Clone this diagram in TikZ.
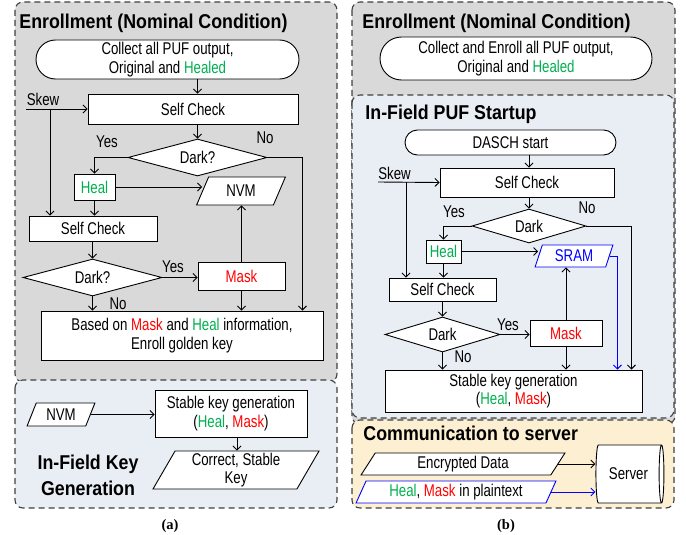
\documentclass[tikz,border=0pt]{standalone}
\usepackage{fontspec}
\setmainfont[FakeStretch=0.78]{Liberation Sans}
\newfontfamily\ttlfont[FakeStretch=0.89]{Liberation Sans}
\newfontfamily\capfont{Liberation Serif}
\usetikzlibrary{shapes.geometric,shapes.misc,arrows.meta}
\definecolor{healgreen}{HTML}{00B050}
\definecolor{maskred}{HTML}{FF0000}
\definecolor{sramblue}{HTML}{0000FF}
\definecolor{enrollgray}{HTML}{D9D9D9}
\definecolor{fieldblue}{HTML}{E9EDF4}
\definecolor{serveryellow}{HTML}{FCEFD2}
\newcommand{\heal}{\textcolor{healgreen}{Heal}}
\newcommand{\mask}{\textcolor{maskred}{Mask}}
\begin{document}
\begin{tikzpicture}[x=1pt, y=-1pt, line width=0.9pt,
    >={Straight Barb[length=4pt,width=8pt]},
    font=\fontsize{17}{18.5}\selectfont,
    frame/.style={dash pattern=on 6pt off 4pt, line width=1.1pt, draw=black!75, rounded corners=8pt},
    box/.style={draw, fill=white, inner sep=0pt, align=center},
    pill/.style={rounded rectangle, draw, fill=white, inner sep=0pt, align=center},
    check/.style={diamond, shape aspect=3.5, draw, fill=white, inner sep=0pt},
    para/.style={trapezium, trapezium left angle=65, trapezium right angle=115, trapezium stretches=true, draw, fill=white, inner sep=0pt, align=center},
    heading/.style={font=\ttlfont\bfseries\fontsize{20}{26}\selectfont, inner sep=0pt},
    caption/.style={font=\capfont\bfseries\fontsize{14.5}{16}\selectfont}]
    \useasboundingbox (0,0) rectangle (686,535);

    \draw[frame, fill=enrollgray] (15,2) rectangle (337,382);
    \draw[frame, fill=fieldblue] (15,380) rectangle (337,508);
    \draw[frame, fill=enrollgray] (352,2) rectangle (675,424);
    \draw[frame, fill=fieldblue] (352,95) rectangle (674,418);
    \draw[frame, fill=serveryellow] (352,420) rectangle (674,508);

    % (a)
    \node[heading, anchor=base west] (ta) at (19,29) {Enrollment (Nominal Condition)};
    \node[pill, minimum width=263pt, minimum height=39pt] (starta) at (167.5,59.5) {Collect all PUF output,\\Original and \textcolor{healgreen}{Healed}};
    \node[box, minimum width=210pt, minimum height=30pt] (sca) at (193,109) {Self Check};
    \node (skewa) at (43,99) {Skew};
    \coordinate (skwa) at (26,109);
    \coordinate (skwa2) at (50,109);
    \node[check, minimum width=139pt, minimum height=37pt] (da) at (197.5,157.5) {Dark?};
    \node (yesa) at (107,142) {Yes};
    \node (noa) at (265,138) {No};
    \node[box, minimum width=41pt, minimum height=26pt] (heala) at (94.5,187) {\heal};
    \node[para, minimum width=89pt, minimum height=28pt] (nvma) at (241,191) {NVM};
    \node[box, minimum width=128pt, minimum height=25pt] (sca2) at (93,228.5) {Self Check};
    \node[check, minimum width=139pt, minimum height=37pt] (da2) at (92.5,277.5) {Dark?};
    \node (yesa2) at (173,267) {Yes};
    \node (noa2) at (118,304) {No};
    \node[box, minimum width=87pt, minimum height=28pt] (maska) at (241.5,276) {\mask};
    \node[box, minimum width=282pt, minimum height=49pt] (enra) at (182,335.5) {Based on \mask{} and \heal{} information,\\Enroll golden key};

    \draw[->] (starta.south -| da.north) -- (sca.north -| da.north);
    \draw[->] (sca.south -| da.north) -- (da.north);
    \draw[->] (skwa) -- (sca.west);
    \draw[->] (skwa2) -- (skwa2 |- sca2.north);
    \draw[->] (da.west) -| (heala.north);
    \draw[->] (da.east) -| ([xshift=-21pt]enra.north east);
    \draw[->] (heala.east) -- (heala.east -| nvma.west);
    \draw[->] (heala.south) -- (heala.south |- sca2.north);
    \draw[->] (sca2.south -| da2.north) -- (da2.north);
    \draw[->] (da2.east) -- (da2.east -| maska.west);
    \draw[->] (maska.north) -- (maska.north |- nvma.south);
    \draw[->] (maska.south) -- (maska.south |- enra.north);
    \draw[->] (da2.south) -- (da2.south |- enra.north);

    \node[para, minimum width=68pt, minimum height=23pt] (nvma2) at (61,414.5) {NVM};
    \node[box, minimum width=152pt, minimum height=47pt] (keya) at (231,413.5) {Stable key generation\\(\heal, \mask)};
    \node[para, minimum width=166pt, minimum height=38pt] (correcta) at (236,470) {Correct, Stable\\Key};
    \node[heading, align=center] (ifka) at (88,475) {In-Field Key\\Generation};
    \draw[->] (nvma2.east) -- (nvma2.east -| keya.west);
    \draw[->] ([xshift=6pt]keya.south) -- ([xshift=6pt]keya.south |- correcta.north);
    \node[caption] (capa) at (170,526) {(a)};

    % (b)
    \node[heading, anchor=base west] (tb) at (362,29) {Enrollment (Nominal Condition)};
    \node[pill, minimum width=272pt, minimum height=43pt] (startb) at (516,58.5) {Collect and Enroll all PUF output,\\Original and \textcolor{healgreen}{Healed}};
    \node[heading, anchor=base west] (tb2) at (365,120) {In-Field PUF Startup};
    \node[pill, minimum width=211pt, minimum height=25pt] (dasch) at (510.5,142.5) {DASCH start};
    \node[box, minimum width=174pt, minimum height=29pt] (scb) at (527,182.5) {Self Check};
    \node (skewb) at (394.5,173) {Skew};
    \coordinate (skwb) at (378,182);
    \coordinate (skwb2) at (406,182);
    \node[check, minimum width=114pt, minimum height=34pt] (db) at (529,226) {Dark};
    \node (yesb) at (454,212) {Yes};
    \node (nob) at (587,208) {No};
    \node[box, minimum width=35pt, minimum height=23pt] (healb) at (443.5,251.5) {\heal};
    \node[para, draw=sramblue, text=sramblue, trapezium left angle=70, trapezium right angle=110, minimum width=78pt, minimum height=22pt] (sramb) at (574,256) {SRAM};
    \node[box, minimum width=107pt, minimum height=23pt] (scb2) at (442.5,289.5) {Self Check};
    \node[check, minimum width=115pt, minimum height=35pt] (db2) at (442.5,334.5) {Dark};
    \node (yesb2) at (508,325) {Yes};
    \node (nob2) at (463,357) {No};
    \node[box, minimum width=72pt, minimum height=26pt] (maskb) at (566,333) {\mask};
    \node[box, minimum width=257pt, minimum height=42pt] (keyb) at (513.5,391) {Stable key generation\\(\heal, \mask)};

    \draw[->] (dasch.south -| db.north) -- (scb.north -| db.north);
    \draw[->] (scb.south -| db.north) -- (db.north);
    \draw[->] (skwb) -- (scb.west);
    \draw[->] (skwb2) -- (skwb2 |- scb2.north);
    \draw[->] (db.west) -| (healb.north);
    \draw[->] (db.east) -| ([xshift=-11pt]keyb.north east);
    \draw[->] (healb.east) -- (healb.east -| sramb.west);
    \draw[->] (healb.south) -- (healb.south |- scb2.north);
    \draw[->, draw=sramblue] (sramb.east) -| ([xshift=-25pt]keyb.north east);
    \draw[->] (scb2.south -| db2.north) -- (db2.north);
    \draw[->] (db2.east) -- (db2.east -| maskb.west);
    \draw[->] (maskb.north) -- (maskb.north |- sramb.south);
    \draw[->] (maskb.south) -- (maskb.south |- keyb.north);
    \draw[->] (db2.south) -- (db2.south |- keyb.north);

    \node[heading, anchor=base west] (tb3) at (363,440) {Communication to server};
    \node[para, minimum width=204pt, minimum height=22pt] (encb) at (463,464) {Encrypted Data};
    \node[para, draw=sramblue, minimum width=200pt, minimum height=22pt] (plainb) at (456,492) {\heal, \mask{} in plaintext};
    \node[cylinder, draw, fill=white, shape aspect=0.4, minimum width=58pt, minimum height=68pt, inner sep=0pt] (server) at (628.5,474) {Server};
    \draw[->] (encb.east) -- (encb.east -| server.west);
    \draw[->, draw=sramblue] (plainb.east) -- (plainb.east -| server.west);
    \node[caption] (capb) at (506,526) {(b)};
\end{tikzpicture}
\end{document}
